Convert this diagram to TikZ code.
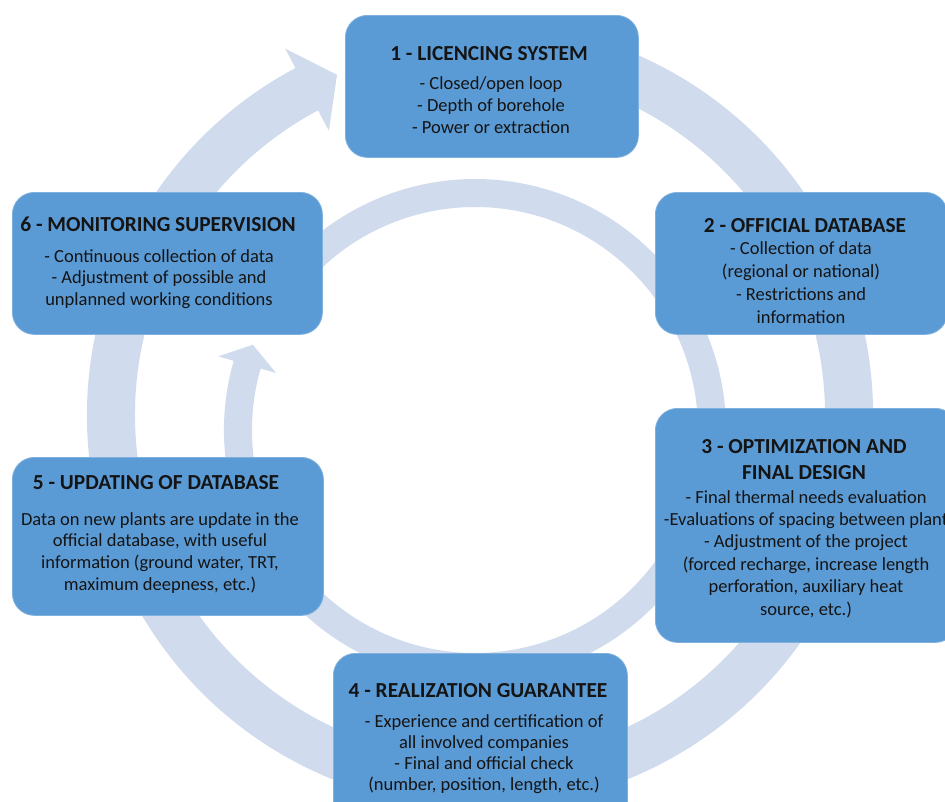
\documentclass[tikz,border=0pt]{standalone}
\usepackage{fontspec}
\setmainfont{Carlito}
\usetikzlibrary{calc}
\definecolor{boxblue}{HTML}{5B9BD5}
\definecolor{boxedge}{HTML}{7FB1DF}
\definecolor{ringblue}{HTML}{D0DCEE}
\definecolor{txt}{HTML}{141414}
\newcommand\stacklines[1]{\begin{tabular}[t]{@{}c@{}}#1\end{tabular}}
\begin{document}
\begin{tikzpicture}[x=1pt,y=1pt,
  stagebox/.style={draw=boxedge, line width=0.8pt, fill=boxblue, rounded corners=22pt, anchor=north west, inner sep=0pt},
  ttl/.style={font=\fontsize{21.4}{26}\selectfont\bfseries, text=txt, inner sep=0pt, anchor=base},
  body/.style={font=\fontsize{18.5}{22.5}\selectfont, text=txt, inner sep=0pt, anchor=base}]

\useasboundingbox (0,0) rectangle (945,-801);
\clip (0,0) rectangle (945,-801);
\fill[white] (0,0) rectangle (945,-801);

% outer circular arrow (6 -> 1)
\coordinate (oc) at (480,-415);
\fill[ringblue] ($(oc)+(118:345)$) -- ($(oc)+(118:322)$) -- ($(oc)+(112.8:369)$)
  -- ($(oc)+(118:415)$) -- ($(oc)+(118:393)$)
  arc[start angle=118, end angle=460, radius=393]
  -- ($(oc)+(460:345)$)
  arc[start angle=460, end angle=118, radius=345] -- cycle;

% inner circular arrow (5 -> 6)
\coordinate (ic) at (475,-430);
\fill[ringblue] ($(ic)+(164:223)$) -- ($(ic)+(164:207)$) -- ($(ic)+(159:238)$)
  -- ($(ic)+(164:267)$) -- ($(ic)+(164:251)$)
  arc[start angle=164, end angle=500, radius=251]
  -- ($(ic)+(500:223)$)
  arc[start angle=500, end angle=164, radius=223] -- cycle;

% boxes
\node[stagebox, minimum width=293, minimum height=142] (b1) at (345,-15) {};
\node[stagebox, minimum width=292, minimum height=142] (b2) at (655,-192) {};
\node[stagebox, minimum width=302, minimum height=234] (b3) at (655,-408) {};
\node[stagebox, minimum width=294, minimum height=175] (b4) at (333,-653) {};
\node[stagebox, minimum width=311, minimum height=158] (b5) at (12,-457) {};
\node[stagebox, minimum width=310, minimum height=142] (b6) at (12,-192) {};

% texts
\node[ttl] (t1) at (489,-60) {1 - LICENCING SYSTEM};
\node[body, font=\fontsize{18.5}{22.3}\selectfont] (d1) at (491,-89) {\stacklines{- Closed/open loop\\- Depth of borehole\\- Power or extraction}};

\node[ttl] (t2) at (805,-232) {2 - OFFICIAL DATABASE};
\node[body, font=\fontsize{18.5}{23}\selectfont] (d2) at (801,-254) {\stacklines{- Collection of data\\(regional or national)\\- Restrictions and\\information}};

\node[ttl] (t3) at (804,-453) {\stacklines{3 - OPTIMIZATION AND\\FINAL DESIGN}};
\node[body, font=\fontsize{18.5}{22.4}\selectfont] (d3) at (806,-503) {\stacklines{- Final thermal needs evaluation\\-Evaluations of spacing between plant\\- Adjustment of the project\\(forced recharge, increase length\\perforation, auxiliary heat\\source, etc.)}};

\node[ttl] (t4) at (478,-697) {4 - REALIZATION GUARANTEE};
\node[body, font=\fontsize{18.5}{21.3}\selectfont] (d4) at (484,-727) {\stacklines{- Experience and certification of\\all involved companies\\- Final and official check\\(number, position, length, etc.)}};

\node[ttl] (t5) at (156,-489) {5 - UPDATING OF DATABASE};
\node[body, font=\fontsize{18.5}{21.8}\selectfont] (d5) at (160,-525) {\stacklines{Data on new plants are update in the\\official database, with useful\\information (ground water, TRT,\\maximum deepness, etc.)}};

\node[ttl] (t6) at (158,-231) {6 - MONITORING SUPERVISION};
\node[body, font=\fontsize{18.5}{21.5}\selectfont] (d6) at (159,-262) {\stacklines{- Continuous collection of data\\- Adjustment of possible and\\unplanned working conditions}};
\end{tikzpicture}
\end{document}
